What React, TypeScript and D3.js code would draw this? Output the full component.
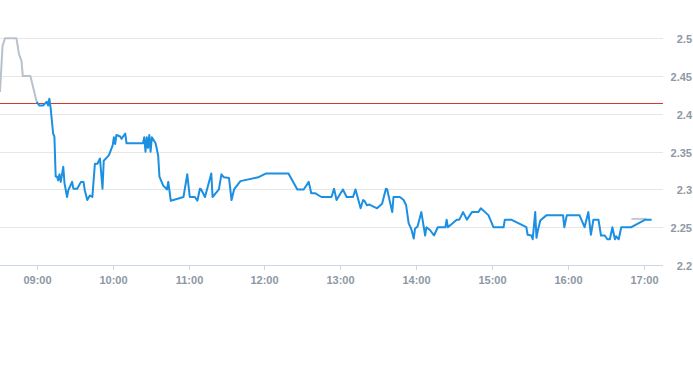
import * as d3 from "d3"

const W = 693
const H = 365

// pre-market (grey) and trading (blue) series
const preTimes = ["08:31", "08:33", "08:35", "08:44", "08:46", "08:48", "08:49", "08:55", "09:00"]
const preValues = [2.429, 2.49, 2.5, 2.5, 2.479, 2.47, 2.45, 2.45, 2.416]

const postTimes = ["16:50", "17:02"]
const postValues = [2.261, 2.261]

const mainTimes = [
  "09:00", "09:02", "09:05", "09:08", "09:09", "09:10", "09:11", "09:13", "09:14", "09:15",
  "09:16", "09:17", "09:18", "09:19", "09:21", "09:22", "09:24", "09:25", "09:28", "09:29",
  "09:32", "09:35", "09:37", "09:38", "09:40", "09:42", "09:44", "09:46", "09:48", "09:50",
  "09:52", "09:53", "09:57", "10:00", "10:01", "10:02", "10:03", "10:06", "10:07", "10:10",
  "10:11", "10:24", "10:25", "10:26", "10:27", "10:28", "10:29", "10:30", "10:31", "10:34",
  "10:36", "10:37", "10:40", "10:43", "10:44", "10:46", "10:56", "10:59", "11:01", "11:05",
  "11:07", "11:09", "11:10", "11:13", "11:18", "11:19", "11:24", "11:26", "11:28", "11:32",
  "11:34", "11:36", "11:41", "11:55", "12:01", "12:19", "12:26", "12:31", "12:35", "12:37",
  "12:40", "12:45", "12:53", "12:55", "12:57", "13:02", "13:05", "13:10", "13:12", "13:16",
  "13:18", "13:19", "13:21", "13:23", "13:29", "13:33", "13:36", "13:37", "13:41", "13:42",
  "13:47", "13:50", "13:52", "13:54", "13:56", "13:58", "13:59", "14:01", "14:04", "14:07",
  "14:08", "14:11", "14:14", "14:17", "14:23", "14:24", "14:25", "14:32", "14:34", "14:37",
  "14:40", "14:44", "14:49", "14:51", "14:57", "15:01", "15:09", "15:10", "15:15", "15:27",
  "15:28", "15:31", "15:32", "15:34", "15:35", "15:36", "15:38", "15:43", "15:56", "15:57",
  "15:59", "16:09", "16:13", "16:16", "16:18", "16:20", "16:24", "16:26", "16:29", "16:31",
  "16:33", "16:35", "16:37", "16:38", "16:40", "16:42", "16:50", "17:01", "17:06",
]
const mainValues = [
  2.416, 2.411, 2.411, 2.416, 2.411, 2.42, 2.408, 2.374, 2.37, 2.317,
  2.317, 2.312, 2.32, 2.31, 2.33, 2.308, 2.29, 2.299, 2.31, 2.301,
  2.301, 2.31, 2.31, 2.299, 2.286, 2.292, 2.29, 2.334, 2.334, 2.341,
  2.301, 2.338, 2.345, 2.358, 2.369, 2.36, 2.372, 2.37, 2.367, 2.374,
  2.361, 2.361, 2.369, 2.35, 2.369, 2.355, 2.372, 2.35, 2.369, 2.361,
  2.345, 2.317, 2.305, 2.3, 2.31, 2.285, 2.29, 2.32, 2.29, 2.29,
  2.285, 2.301, 2.3, 2.29, 2.321, 2.29, 2.3, 2.32, 2.316, 2.315,
  2.286, 2.3, 2.311, 2.316, 2.321, 2.321, 2.3, 2.3, 2.31, 2.295,
  2.295, 2.29, 2.29, 2.301, 2.286, 2.3, 2.29, 2.29, 2.3, 2.275,
  2.286, 2.285, 2.279, 2.28, 2.275, 2.281, 2.301, 2.3, 2.27, 2.29,
  2.29, 2.286, 2.279, 2.255, 2.248, 2.235, 2.248, 2.251, 2.27, 2.239,
  2.25, 2.246, 2.239, 2.25, 2.25, 2.26, 2.25, 2.26, 2.26, 2.27,
  2.26, 2.27, 2.27, 2.275, 2.266, 2.25, 2.25, 2.26, 2.26, 2.25,
  2.24, 2.239, 2.234, 2.27, 2.236, 2.245, 2.259, 2.266, 2.266, 2.25,
  2.266, 2.266, 2.25, 2.27, 2.24, 2.26, 2.26, 2.239, 2.239, 2.234,
  2.234, 2.25, 2.234, 2.238, 2.234, 2.25, 2.25, 2.26, 2.26,
]

const prevClose = 2.415
const xDomain = ["08:31", "17:15"]
const xTicks = ["09:00", "10:00", "11:00", "12:00", "13:00", "14:00", "15:00", "16:00", "17:00"]
const yTicks = [2.2, 2.25, 2.3, 2.35, 2.4, 2.45, 2.5]

const parseTime = d3.timeParse("%H:%M")

type Pt = { t: Date; v: number }
const toPts = (times: string[], values: number[]): Pt[] =>
  times.map((t, i) => ({ t: parseTime(t) as Date, v: values[i] }))

export default function App() {
  const plotRight = 663
  const plotBottom = 265

  const x = d3.scaleTime()
    .domain(xDomain.map(t => parseTime(t) as Date))
    .range([0, plotRight])

  const y = d3.scaleLinear()
    .domain([2.2, 2.5])
    .range([plotBottom, 38.3])

  const line = d3.line<Pt>()
    .x(d => x(d.t))
    .y(d => y(d.v))

  const labelStyle = {
    fontFamily: "'Liberation Sans', Arial, sans-serif",
    fontSize: 11,
    fontWeight: 700,
    fill: "#8e98a4",
  }

  const redY = Math.round(y(prevClose)) + 0.5

  return (
    <div style={{ position: "absolute", left: 0, top: 0 }}>
      <svg width={W} height={H} style={{ display: "block", background: "#fff" }}>
        {/* gridlines */}
        {yTicks.map(v => (
          <line key={v} x1={0} x2={plotRight} y1={Math.round(y(v)) + 0.5} y2={Math.round(y(v)) + 0.5}
            stroke="#e6e6e6" strokeWidth={1} />
        ))}
        {/* y labels */}
        {yTicks.map(v => (
          <text key={"l" + v} x={692} y={y(v) + 1} textAnchor="end" dominantBaseline="central" style={labelStyle}>
            {String(+v.toFixed(2))}
          </text>
        ))}
        {/* x axis */}
        <line x1={0} x2={plotRight} y1={plotBottom + 0.5} y2={plotBottom + 0.5} stroke="#ccd6eb" />
        {xTicks.map(t => {
          const px = Math.round(x(parseTime(t) as Date)) + 0.5
          return (
            <g key={t}>
              <line x1={px} x2={px} y1={plotBottom} y2={plotBottom + 5} stroke="#ccd6eb" />
              <text x={px} y={284} textAnchor="middle" style={labelStyle}>{t}</text>
            </g>
          )
        })}
        {/* previous close */}
        <rect x={0} y={redY - 0.5} width={plotRight} height={1} fill="#d9352a" />
        {/* series */}
        <path d={line(toPts(preTimes, preValues)) || ""} fill="none" stroke="#b9c2cc" strokeWidth={2} strokeLinejoin="round" />
        <path d={line(toPts(postTimes, postValues)) || ""} fill="none" stroke="#c2c9d1" strokeWidth={2} />
        <path d={line(toPts(mainTimes, mainValues)) || ""} fill="none" stroke="#1b8fe2" strokeWidth={2} strokeLinejoin="round" />
      </svg>
    </div>
  )
}
